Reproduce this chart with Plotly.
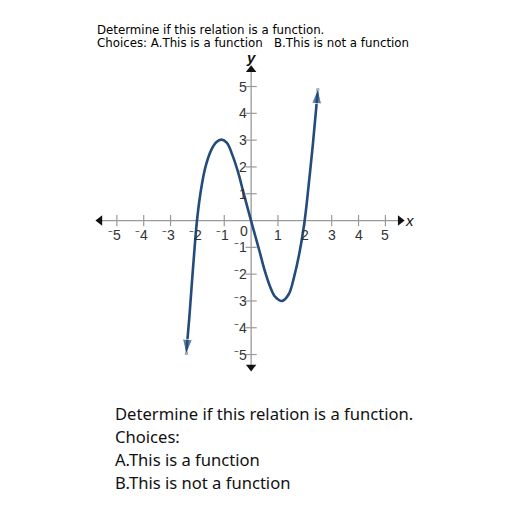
import plotly.graph_objects as go

# ---- data ----
curve_x = [-2.42, -2.3, -2.2, -2.1, -2.0, -1.85, -1.7, -1.5, -1.3, -1.1, -0.9, -0.7, -0.5, -0.3,
           -0.1, 0.05, 0.3, 0.5, 0.7, 0.9, 1.15, 1.4, 1.6, 1.8, 2.0, 2.15, 2.3, 2.49]
curve_y = [-5.0, -3.6, -2.25, -0.95, 0.15, 1.25, 2.0, 2.6, 2.92, 3.02, 2.9, 2.45, 1.85, 1.1,
           0.35, -0.2, -1.1, -1.85, -2.45, -2.85, -3.0, -2.75, -2.1, -1.2, 0.05, 1.4, 2.85, 4.93]

x_ticks = [-5, -4, -3, -2, -1, 1, 2, 3, 4, 5]
x_tick_labels = ["\u207b5", "\u207b4", "\u207b3", "\u207b2", "\u207b1", "1", "2", "3", "4", "5"]
y_ticks = [-5, -4, -3, -2, -1, 1, 2, 3, 4, 5]
y_tick_labels = ["\u207b5", "\u207b4", "\u207b3", "\u207b2", "\u207b1", "1", "2", "3", "4", "5"]
x_axis_extent = [-5.63, 5.55]
y_axis_extent = [-5.46, 5.63]

title_lines = ["Determine if this relation is a function.",
               "Choices: A.This is a function   B.This is not a function"]
body_lines = ["Determine if this relation is a function.", "Choices:",
              "A.This is a function", "B.This is not a function"]

# ---- layout geometry (page body has an 8px margin) ----
OFF = 8
W, H = 512, 512
ml, pw = 90 - OFF, 332.7
mt, ph = 49 - OFF, 327.0
x_range = [-6.0, 6.4]
y_range = [-5.8, 6.4]

def px_x(px):
    return (px - OFF - ml) / pw

def px_y(py):
    return (mt + ph - (py - OFF)) / ph

AX_COL = "#9a9a9a"
CURVE_COL = "#234b7c"
LBL_COL = "#333333"

fig = go.Figure()

# axis lines
fig.add_trace(go.Scatter(x=x_axis_extent, y=[0, 0], mode="lines",
                         line=dict(color=AX_COL, width=1.3), hoverinfo="skip"))
fig.add_trace(go.Scatter(x=[0, 0], y=y_axis_extent, mode="lines",
                         line=dict(color=AX_COL, width=1.3), hoverinfo="skip"))
# axis arrowheads
fig.add_trace(go.Scatter(x=[x_axis_extent[1]], y=[0], mode="markers",
                         marker=dict(symbol="triangle-right", size=9, color="#111"), hoverinfo="skip"))
fig.add_trace(go.Scatter(x=[x_axis_extent[0]], y=[0], mode="markers",
                         marker=dict(symbol="triangle-left", size=9, color="#111"), hoverinfo="skip"))
fig.add_trace(go.Scatter(x=[0], y=[y_axis_extent[1]], mode="markers",
                         marker=dict(symbol="triangle-up", size=9, color="#111"), hoverinfo="skip"))
fig.add_trace(go.Scatter(x=[0], y=[y_axis_extent[0]], mode="markers",
                         marker=dict(symbol="triangle-down", size=9, color="#111"), hoverinfo="skip"))
# tick marks
fig.add_trace(go.Scatter(x=x_ticks, y=[0] * len(x_ticks), mode="markers",
                         marker=dict(symbol="line-ns", size=8, line=dict(color=AX_COL, width=1.2)),
                         hoverinfo="skip"))
fig.add_trace(go.Scatter(x=[0] * len(y_ticks), y=y_ticks, mode="markers",
                         marker=dict(symbol="line-ew", size=8, line=dict(color=AX_COL, width=1.2)),
                         hoverinfo="skip"))

# curve
fig.add_trace(go.Scatter(x=curve_x, y=curve_y, mode="lines", line=dict(color=CURVE_COL, width=2.6),
                         line_shape="spline", hoverinfo="skip"))
# curve arrowheads
fig.add_trace(go.Scatter(x=curve_x[-2:], y=curve_y[-2:], mode="markers",
                         marker=dict(symbol="arrow", size=[0, 16], angleref="previous", color=CURVE_COL),
                         hoverinfo="skip"))
fig.add_trace(go.Scatter(x=[curve_x[1], curve_x[0]], y=[curve_y[1], curve_y[0]], mode="markers",
                         marker=dict(symbol="arrow", size=[0, 16], angleref="previous", color=CURVE_COL),
                         hoverinfo="skip"))

annotations = []
for t, lab in zip(x_ticks, x_tick_labels):
    annotations.append(dict(x=t, y=0, xref="x", yref="y", text=lab, showarrow=False,
                            yshift=-14, xshift=-2 if lab.startswith("\u207b") else 0,
                            font=dict(family="Liberation Sans, Arial", size=14, color=LBL_COL)))
for t, lab in zip(y_ticks, y_tick_labels):
    annotations.append(dict(x=0, y=t, xref="x", yref="y", text=lab, showarrow=False,
                            xanchor="right", xshift=-2,
                            font=dict(family="Liberation Sans, Arial", size=14, color=LBL_COL)))
annotations.append(dict(x=0, y=0, xref="x", yref="y", text="0", showarrow=False,
                        xanchor="right", xshift=-1, yshift=-10,
                        font=dict(family="Liberation Sans, Arial", size=14, color=LBL_COL)))
annotations.append(dict(x=x_axis_extent[1], y=0, xref="x", yref="y", text="<i>x</i>", showarrow=False,
                        xanchor="left", xshift=3,
                        font=dict(family="Liberation Sans, Arial", size=15, color="#111")))
annotations.append(dict(x=0, y=y_axis_extent[1], xref="x", yref="y", text="<i><b>y</b></i>", showarrow=False,
                        yanchor="bottom", yshift=2,
                        font=dict(family="Liberation Sans, Arial", size=15, color="#111")))

for i, line in enumerate(title_lines):
    annotations.append(dict(x=px_x(95), y=px_y(30 + 13 * i), xref="paper", yref="paper",
                            text=line, showarrow=False, xanchor="left", yanchor="middle",
                            font=dict(family="DejaVu Sans", size=11.8, color="#000")))
for i, line in enumerate(body_lines):
    annotations.append(dict(x=px_x(113), y=px_y(413 + 23.3 * i), xref="paper", yref="paper",
                            text=line, showarrow=False, xanchor="left", yanchor="middle",
                            font=dict(family="Noto Sans", size=16.6, color="#111")))

fig.update_layout(
    width=W, height=H,
    margin=dict(l=ml, r=W - ml - pw, t=mt, b=H - mt - ph, pad=0),
    paper_bgcolor="white", plot_bgcolor="white",
    showlegend=False,
    xaxis=dict(range=x_range, visible=False, fixedrange=True),
    yaxis=dict(range=y_range, visible=False, fixedrange=True),
    annotations=annotations,
)

fig.write_html("out.html")
